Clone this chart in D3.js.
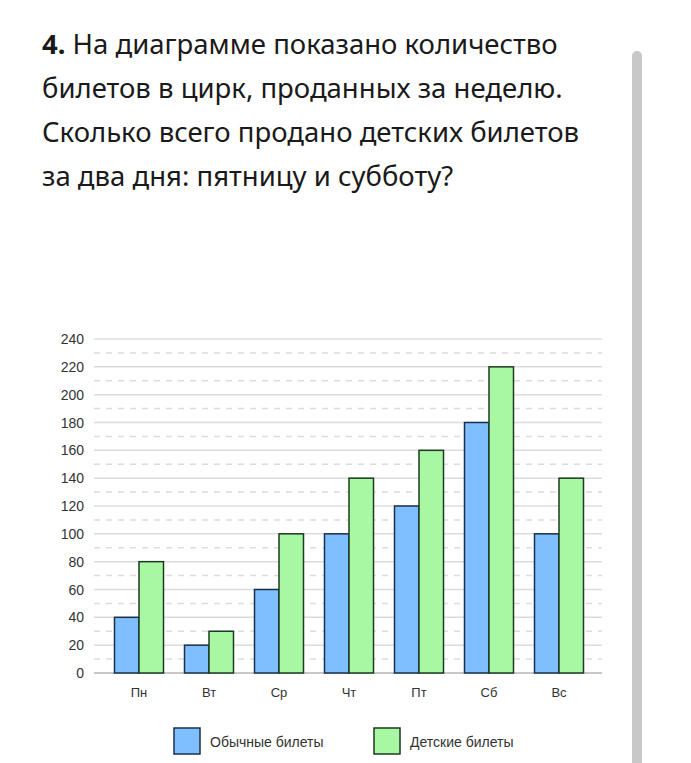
<!DOCTYPE html>
<html>
<head>
<meta charset="utf-8">
<script src="https://cdn.jsdelivr.net/npm/d3@7"></script>
<style>
  body { margin: 0; background: #fff; }
  svg { display: block; }
</style>
</head>
<body>
<svg id="chart" width="691" height="763"></svg>
<script>
// данные
var days = ["Пн", "Вт", "Ср", "Чт", "Пт", "Сб", "Вс"]
var regular = [40, 20, 60, 100, 120, 180, 100]
var kids = [80, 30, 100, 140, 160, 220, 140]
var yTicks = [0, 20, 40, 60, 80, 100, 120, 140, 160, 180, 200, 220, 240]
var yHalf = [10, 30, 50, 70, 90, 110, 130, 150, 170, 190, 210, 230]
var titleLines = [
    "На диаграмме показано количество",
    "билетов в цирк, проданных за неделю.",
    "Сколько всего продано детских билетов",
    "за два дня: пятницу и субботу?"
]
var legendNames = ["Обычные билеты", "Детские билеты"]

var svg = d3.select("#chart")

// scrollbar on the right
svg.append("rect")
    .attr("x", 632).attr("y", 51)
    .attr("width", 10).attr("height", 760)
    .attr("rx", 5)
    .style("fill", "#c8c8c8")

// title
var title = svg.append("g").attr("class", "title")
    .style("font-family", "'Noto Sans', 'Open Sans', sans-serif")
    .style("font-size", "27.5px")
    .style("fill", "#1a1a1a")

titleLines.forEach(function(line, i){
    var t = title.append("text")
        .attr("x", 42)
        .attr("y", 54 + i * 44)
    if(i == 0)
    {
        t.append("tspan").style("font-weight", "bold").text("4. ")
    }
    t.append("tspan").text(line)
})

var x = d3.scaleBand()
    .domain(days)
    .range([104, 594])
    .paddingInner(0.3)
    .paddingOuter(0.15)

var y = d3.scaleLinear()
    .domain([0, 240])
    .range([673, 339])

var x1 = 94, x2 = 602

// grid
var grid = svg.append("g")
grid.selectAll(".half").data(yHalf).enter().append("line")
    .attr("class", "half")
    .attr("x1", x1).attr("x2", x2)
    .attr("y1", function(d){ return y(d) }).attr("y2", function(d){ return y(d) })
    .style("stroke", "#dcdcdc")
    .style("stroke-width", 1.5)
    .style("stroke-dasharray", "6,6")

grid.selectAll(".full").data(yTicks).enter().append("line")
    .attr("class", "full")
    .attr("x1", x1).attr("x2", x2)
    .attr("y1", function(d){ return y(d) }).attr("y2", function(d){ return y(d) })
    .style("stroke", function(d){ return d == 0 ? "#c8c8c8" : "#dcdcdc" })
    .style("stroke-width", function(d){ return d == 0 ? 2 : 1.5 })

// y labels
svg.append("g").selectAll("text").data(yTicks).enter().append("text")
    .attr("x", 84)
    .attr("y", function(d){ return y(d) })
    .attr("dy", "0.36em")
    .attr("text-anchor", "end")
    .style("font-family", "'Liberation Sans', Arial, sans-serif")
    .style("font-size", "14px")
    .style("fill", "#333")
    .text(function(d){ return d })

// bars
var bw = x.bandwidth() / 2
var bars = svg.append("g")
bars.selectAll(".reg").data(days).enter().append("rect")
    .attr("class", "reg")
    .attr("x", function(d){ return x(d) })
    .attr("y", function(d, i){ return y(regular[i]) })
    .attr("width", bw)
    .attr("height", function(d, i){ return y(0) - y(regular[i]) })
    .style("fill", "#80bfff")
    .style("stroke", "#1b3048")
    .style("stroke-width", 1.5)

bars.selectAll(".kid").data(days).enter().append("rect")
    .attr("class", "kid")
    .attr("x", function(d){ return x(d) + bw })
    .attr("y", function(d, i){ return y(kids[i]) })
    .attr("width", bw)
    .attr("height", function(d, i){ return y(0) - y(kids[i]) })
    .style("fill", "#a8f7a3")
    .style("stroke", "#1d3a22")
    .style("stroke-width", 1.5)

// x labels
svg.append("g").selectAll("text").data(days).enter().append("text")
    .attr("x", function(d){ return x(d) + x.bandwidth() / 2 })
    .attr("y", 692)
    .attr("dy", "0.36em")
    .attr("text-anchor", "middle")
    .style("font-family", "'Liberation Sans', Arial, sans-serif")
    .style("font-size", "13px")
    .style("fill", "#333")
    .text(function(d){ return d })

// legend
var legColors = [["#80bfff", "#1b3048"], ["#a8f7a3", "#1d3a22"]]
var leg = svg.append("g").selectAll("g").data(legendNames).enter().append("g")
    .attr("transform", function(d, i){ return "translate(" + (174 + i * 200) + ",728)" })
leg.append("rect")
    .attr("width", 26).attr("height", 26)
    .style("fill", function(d, i){ return legColors[i][0] })
    .style("stroke", function(d, i){ return legColors[i][1] })
    .style("stroke-width", 1.5)
leg.append("text")
    .attr("x", 36).attr("y", 14)
    .attr("dy", "0.36em")
    .style("font-family", "'Liberation Sans', Arial, sans-serif")
    .style("font-size", "14px")
    .style("fill", "#333")
    .text(function(d){ return d })
</script>
</body>
</html>
